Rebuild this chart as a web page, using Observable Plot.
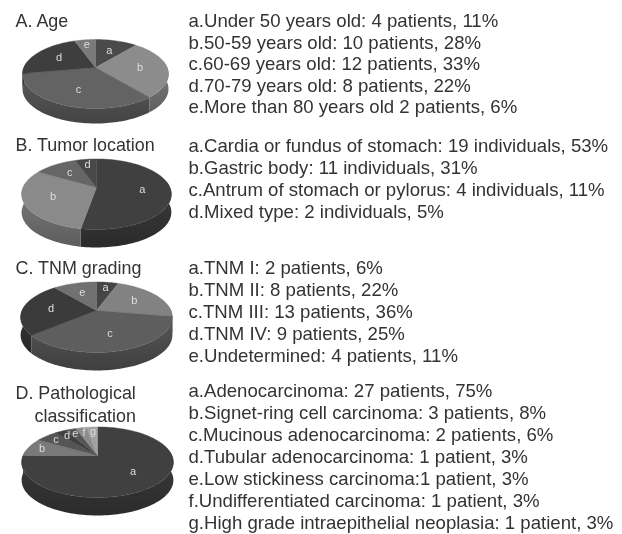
<!DOCTYPE html>
<html>
<head>
<meta charset="utf-8">
<script src="https://cdn.jsdelivr.net/npm/d3@7"></script>
<script src="https://cdn.jsdelivr.net/npm/@observablehq/plot@0.6"></script>
<style>
html,body{margin:0;padding:0;background:#fff}
svg{display:block;filter:blur(0.45px)}
</style>
</head>
<body>
<div id="chart"></div>
<script>
// Data
const titleA = ["A. Age"];
const lettersA = ["a","b","c","d","e"];
const valuesA = [4,10,12,8,2];
const linesA = ["a.Under 50 years old: 4 patients, 11%","b.50-59 years old: 10 patients, 28%","c.60-69 years old: 12 patients, 33%","d.70-79 years old: 8 patients, 22%","e.More than 80 years old 2 patients, 6%"];

const titleB = ["B. Tumor location"];
const lettersB = ["a","b","c","d"];
const valuesB = [19,11,4,2];
const linesB = ["a.Cardia or fundus of stomach: 19 individuals, 53%","b.Gastric body: 11 individuals, 31%","c.Antrum of stomach or pylorus: 4 individuals, 11%","d.Mixed type: 2 individuals, 5%"];

const titleC = ["C. TNM grading"];
const lettersC = ["a","b","c","d","e"];
const valuesC = [2,8,13,9,4];
const linesC = ["a.TNM I: 2 patients, 6%","b.TNM II: 8 patients, 22%","c.TNM III: 13 patients, 36%","d.TNM IV: 9 patients, 25%","e.Undetermined: 4 patients, 11%"];

const titleD = ["D. Pathological","classification"];
const lettersD = ["a","b","c","d","e","f","g"];
const valuesD = [27,3,2,1,1,1,1];
const linesD = ["a.Adenocarcinoma: 27 patients, 75%","b.Signet-ring cell carcinoma: 3 patients, 8%","c.Mucinous adenocarcinoma: 2 patients, 6%","d.Tubular adenocarcinoma: 1 patient, 3%","e.Low stickiness carcinoma:1 patient, 3%","f.Undifferentiated carcinoma: 1 patient, 3%","g.High grade intraepithelial neoplasia: 1 patient, 3%"];

// Styles and layout, separate from the data
const shadesA = ["#4a4a4a","#8c8c8c","#636363","#3e3e3e","#7a7a7a"];
const shadesB = ["#404040","#8a8a8a","#666666","#484848"];
const shadesC = ["#454545","#828282","#5e5e5e","#3b3b3b","#717171"];
const shadesD = ["#404040","#7a7a7a","#555555","#404040","#555555","#8c8c8c","#a2a2a2"];

const panels = [
  {letters:lettersA, values:valuesA, shades:shadesA, lines:linesA, title:titleA, cx:95, cy:67, A:71.7, B:33.3, k:0.188, depth:15, row0:21, step:21.4, tx:[15], ty:21},
  {letters:lettersB, values:valuesB, shades:shadesB, lines:linesB, title:titleB, cx:96, cy:187, A:73.5, B:34, k:0.19, depth:18, row0:146, step:21.7, tx:[15], ty:145},
  {letters:lettersC, values:valuesC, shades:shadesC, lines:linesC, title:titleC, cx:96, cy:310, A:74.5, B:34, k:0.19, depth:18, row0:268, step:22, tx:[15], ty:268},
  {letters:lettersD, values:valuesD, shades:shadesD, lines:linesD, title:titleD, cx:97, cy:455, A:74.5, B:34, k:0.19, depth:18, row0:391, step:22, tx:[15,34], ty:393}
];

const TAU = 2*Math.PI;
function project(p, t, r=1){
  const X = r*Math.sin(t), Y = r*Math.cos(t), w = 1 + p.k*Y;
  return {x: p.cx + p.A*X/w, y: p.cy - p.B*Y/w};
}
function arc(p, t0, t1){
  const n = Math.max(2, Math.ceil((t1-t0)/0.03));
  return d3.range(n+1).map(i => project(p, t0+(t1-t0)*i/n));
}

const faces = [], walls = [], labels = [], texts = [], titles = [];
const gradientColors = new Set();
for (const p of panels) {
  const total = d3.sum(p.values);
  let acc = 0;
  p.values.forEach((v,i) => {
    const t0 = acc/total*TAU; acc += v; const t1 = acc/total*TAU;
    const fill = p.shades[i];
    faces.push({fill, pts:[{x:p.cx,y:p.cy}, ...arc(p,t0,t1), {x:p.cx,y:p.cy}]});
    const a = Math.max(t0, TAU*80/360), b = Math.min(t1, TAU*280/360);
    if (b > a) {
      const top = arc(p,a,b);
      walls.push({fill, pts:[...top, ...top.slice().reverse().map(q=>({x:q.x,y:q.y+p.depth}))]});
      gradientColors.add(fill);
    }
    const r = v/total < 0.1 ? 0.8 : 0.62;
    const m = project(p,(t0+t1)/2,r);
    labels.push({x:m.x,y:m.y,text:p.letters[i]});
  });
  p.lines.forEach((s,i)=>texts.push({x:188,y:p.row0+i*p.step,text:s}));
  p.title.forEach((s,i)=>titles.push({x:p.tx[i],y:p.ty+i*23,text:s}));
}
const gid = c => "wall"+c.slice(1);

const defsMark = () => {
  const defs = d3.create("svg:defs");
  for (const c of gradientColors) {
    const g = defs.append("linearGradient").attr("id",gid(c)).attr("x1",0).attr("y1",0).attr("x2",0).attr("y2",1);
    g.append("stop").attr("offset","0%").attr("stop-color",d3.color(c).darker(0.25).formatHex());
    g.append("stop").attr("offset","100%").attr("stop-color",d3.color(c).darker(1.1).formatHex());
  }
  return defs.node();
};

const chart = Plot.plot({
  width:622, height:534, margin:0,
  x:{domain:[0,622],range:[0,622],axis:null},
  y:{domain:[0,534],range:[0,534],axis:null},
  style:{background:"#fff",fontFamily:"'Liberation Sans',Arial,sans-serif"},
  marks:[
    defsMark,
    ...walls.map(w=>Plot.line(w.pts,{x:"x",y:"y",fill:`url(#${gid(w.fill)})`,stroke:"none"})),
    ...faces.map(f=>Plot.line(f.pts,{x:"x",y:"y",fill:f.fill,stroke:f.fill,strokeWidth:0.4})),
    Plot.text(labels,{x:"x",y:"y",text:"text",fill:"#dedede",fontSize:11}),
    Plot.text(titles,{x:"x",y:"y",text:"text",textAnchor:"start",fill:"#333333",fontSize:17.9}),
    Plot.text(texts,{x:"x",y:"y",text:"text",textAnchor:"start",fill:"#333333",fontSize:18.6})
  ]
});
document.getElementById("chart").appendChild(chart);
</script>
</body>
</html>
